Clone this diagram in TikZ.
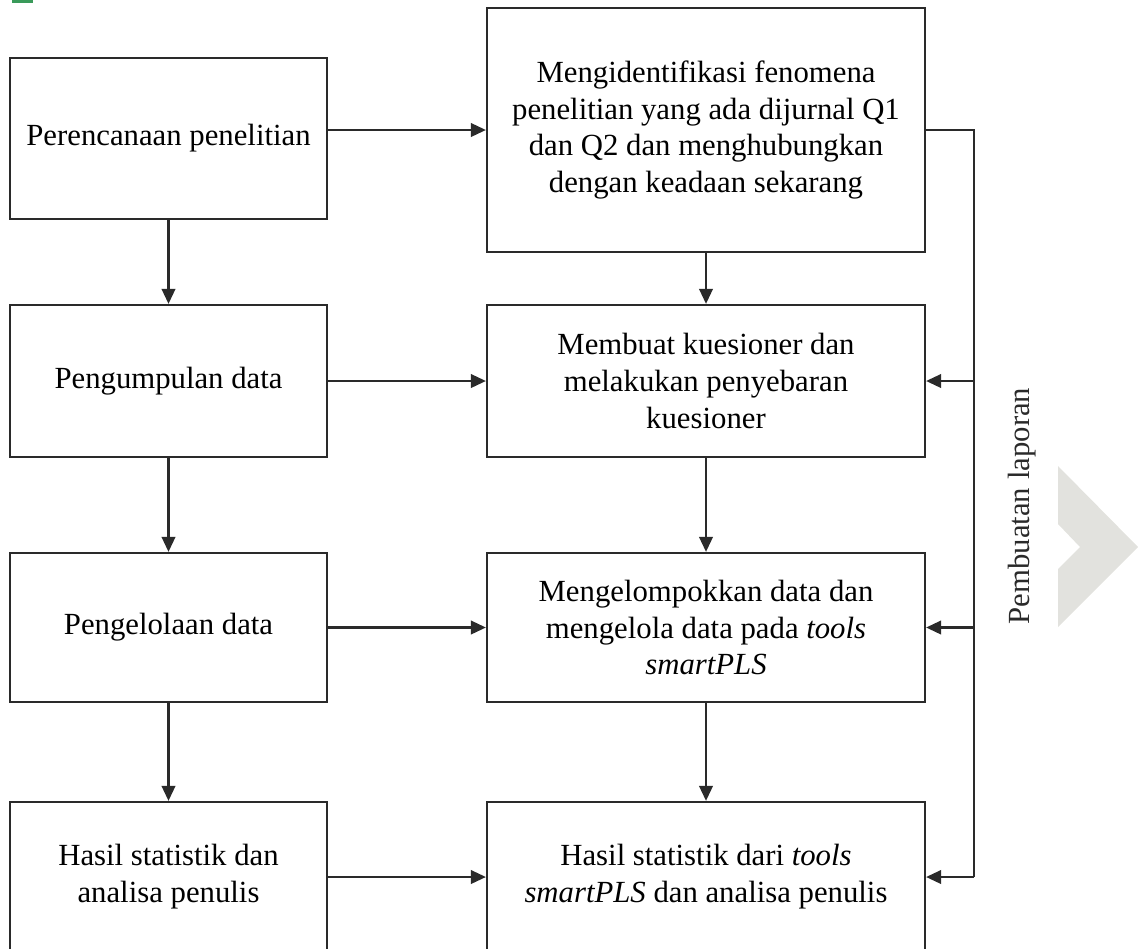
\documentclass[tikz,border=0pt]{standalone}
\usepackage{fontspec}
\setmainfont{Liberation Serif}
\usetikzlibrary{arrows.meta}
\definecolor{linegray}{HTML}{2A2A2A}
\definecolor{chevgray}{HTML}{E2E2DE}
\definecolor{tabgreen}{HTML}{3A9A5A}
\tikzset{
  stepbox/.style={draw=linegray, line width=1.3pt, inner sep=2pt,
    align=center, font=\fontsize{17.5}{21}\selectfont},
  small box/.style={stepbox, minimum width=6.34cm},
  wide box/.style={stepbox, minimum width=8.76cm},
  flow/.style={draw=linegray, line width=1.3pt,
    -{Triangle[length=0.3cm,width=0.27cm]}},
}
\newcommand{\tl}{\textit{tools}}
\newcommand{\spls}{\textit{smartPLS}}

\begin{document}
\begin{tikzpicture}[x=0.02cm,y=-0.02cm]
            \useasboundingbox (0,0) rectangle (1138,948);
            \clip (0,0) rectangle (1138,948);

            % Left column
            \node[small box, minimum height=3.22cm] (l1) at (168.5,138.5) {Perencanaan penelitian};
            \node[small box, minimum height=3.04cm] (l2) at (168.5,381) {Pengumpulan data};
            \node[small box, minimum height=2.98cm] (l3) at (168.5,627.5) {Pengelolaan data};
            \node[small box, minimum height=3cm]    (l4) at (168.5,877) {Hasil statistik dan\\analisa penulis};

            % Right column
            \node[wide box, minimum height=4.88cm] (r1) at (706,130) {Mengidentifikasi fenomena\\penelitian yang ada dijurnal Q1\\dan Q2 dan menghubungkan\\dengan keadaan sekarang};
            \node[wide box, minimum height=3.04cm] (r2) at (706,381) {Membuat kuesioner dan\\melakukan penyebaran\\kuesioner};
            \node[wide box, minimum height=2.98cm] (r3) at (706,627.5) {Mengelompokkan data dan\\mengelola data pada \tl\\\spls};
            \node[wide box, minimum height=3cm]    (r4) at (706,877) {Hasil statistik dari \tl\\\spls{} dan analisa penulis};

            % Label and chevron
            \node[rotate=90, font=\fontsize{17.5}{21}\selectfont, text=linegray] (lap) at (1022,506) {Pembuatan laporan};
            \fill[chevgray] (1058,466) -- (1138,547) -- (1058,627) -- (1058,569) -- (1080,547) -- (1058,524) -- cycle;
            \fill[tabgreen] (12,0) rectangle (33,3);

            % Arrows down
            \draw[flow] (l1) -- (l2);
            \draw[flow] (l2) -- (l3);
            \draw[flow] (l3) -- (l4);
            \draw[flow] (r1) -- (r2);
            \draw[flow] (r2) -- (r3);
            \draw[flow] (r3) -- (r4);

            % Arrows across
            \draw[flow] (r1.west -| l1.east) -- (r1.west);
            \draw[flow] (r2.west -| l2.east) -- (r2.west);
            \draw[flow] (r3.west -| l3.east) -- (r3.west);
            \draw[flow] (r4.west -| l4.east) -- (r4.west);

            % Feedback
            \draw[draw=linegray, line width=1.3pt] (r1.east) -- ++(48,0) coordinate (fb) -- (fb |- r4.east);
            \draw[flow] (fb |- r2.east) -- (r2.east);
            \draw[flow] (fb |- r3.east) -- (r3.east);
            \draw[flow] (fb |- r4.east) -- (r4.east);
        \end{tikzpicture}
\end{document}
